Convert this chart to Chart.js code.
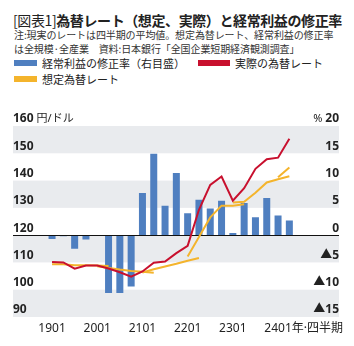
<!DOCTYPE html>
<html lang="ja">
<head>
<meta charset="utf-8">
<title>為替レートと経常利益の修正率</title>
<script src="https://cdn.jsdelivr.net/npm/chart.js@4.4.1/dist/chart.umd.min.js"></script>
<style>
  body { margin: 0; background: #fff; color: #222; font-family: "Noto Sans CJK JP", "Noto Sans", sans-serif; }
  #wrap { position: relative; width: 354px; height: 346px; overflow: hidden; }
  #chart { position: absolute; left: 0; top: 0; }
  .title { position: absolute; left: 13px; top: 10px; font-size: 14px; font-weight: bold; white-space: nowrap; letter-spacing: -0.4px; }
  .title span { font-weight: normal; }
  .note { position: absolute; left: 14px; top: 28px; font-size: 10px; line-height: 14px; color: #333; white-space: nowrap; letter-spacing: -0.1px; }
  .key { position: absolute; font-size: 11px; line-height: 14px; white-space: nowrap; }
  .key i { position: absolute; top: 4px; height: 6px; }
</style>
</head>
<body>
<div id="wrap">
  <div class="title"><span>[図表1]</span>為替レート（想定、実際）と経常利益の修正率</div>
  <div class="note">注:現実のレートは四半期の平均値。想定為替レート、経常利益の修正率<br>は全規模·全産業　資料:日本銀行「全国企業短期経済観測調査」</div>
  <div class="key" style="left:14px;top:56px;padding-left:28px"><i style="left:0;width:23px;background:#4f7fc0"></i>経常利益の修正率（右目盛）</div>
  <div class="key" style="left:198px;top:56px;padding-left:37px"><i style="left:0;width:32px;background:#c8102e"></i>実際の為替レート</div>
  <div class="key" style="left:14px;top:72px;padding-left:28px"><i style="left:0;width:23px;background:#f4b42c"></i>想定為替レート</div>
  <canvas id="chart" width="354" height="346"></canvas>
</div>
<script>
// quarters: YYQQ
const quarters = ['1901', '1902', '1903', '1904', '2001', '2002', '2003', '2004',
  '2101', '2102', '2103', '2104', '2201', '2202', '2203', '2204',
  '2301', '2302', '2303', '2304', '2401', '2402'];

// axis ticks
const yenTicks = [90, 100, 110, 120, 130, 140, 150, 160];
const pctTicks = [-15, -10, -5, 0, 5, 10, 15, 20];

// 経常利益の修正率 (%), right axis
const profitRevision = [-0.7, -0.2, -2.5, -0.8, 0, -10.6, -10.6, -9.4,
  7.7, 14.9, 5.4, 11.4, 4.0, 6.5, 4.9, 6.3,
  0.4, 5.9, 3.3, 6.8, 3.6, 2.7];

// 実際の為替レート (円/ドル, quarterly average)
const actualRate = [110.2, 110.0, 107.7, 108.9, 108.9, 107.8, 106.4, 104.8,
  106.7, 109.9, 110.3, 113.4, 116.1, 129.3, 138.4, 141.5,
  132.6, 137.2, 144.3, 147.8, 148.4, 155.3];

// 想定為替レート, one run per fiscal year, starting at the March survey
const assumedFY2019 = [109.3, 109.3, 109.0, 109.0, 108.9, 108.7];
const assumedFY2020 = [108.6, 108.0, 107.4, 106.9, 106.6, 106.2];
const assumedFY2021 = [106.3, 107.5, 108.5, 109.5, 110.6, 111.6];
const assumedFY2022 = [112.2, 119.3, 126.5, 130.8, 130.8, 131.3];
const assumedFY2023 = [132.0, 132.2, 135.5, 139.3, 140.5, 141.6];
const assumedFY2024 = [141.2, 144.8];
const assumedStart = ['1901', '2001', '2101', '2201', '2301', '2401'];

const BLUE = '#4f7fc0';
const RED = '#c8102e';
const YELLOW = '#f4b42c';
const BAND = '#e9ebee';
const INK = '#222';
const FONT = '"Noto Sans", "Noto Sans CJK JP", sans-serif';

// place a fiscal-year run onto the quarter axis
function placeRun(start, values) {
  const out = quarters.map(() => null);
  const i0 = quarters.indexOf(start);
  values.forEach((v, i) => { out[i0 + i] = v; });
  return out;
}

const assumedRuns = [assumedFY2019, assumedFY2020, assumedFY2021,
  assumedFY2022, assumedFY2023, assumedFY2024];

const assumedSets = assumedRuns.map((run, k) => ({
  type: 'line',
  label: '想定為替レート',
  data: placeRun(assumedStart[k], run),
  borderColor: YELLOW,
  borderWidth: 2,
  pointRadius: 0,
  tension: 0,
  spanGaps: false,
  yAxisID: 'y',
  order: 2
}));

// grey bands every other 10-yen step, plus the zero line
const bandsPlugin = {
  id: 'bands',
  beforeDatasetsDraw(chart) {
    const { ctx } = chart;
    const y = chart.scales.y;
    const left = y.left;
    const right = chart.scales.y2.right;
    ctx.save();
    ctx.fillStyle = BAND;
    for (let v = y.min; v < y.max; v += 20) {
      const top = y.getPixelForValue(v + 10);
      const bottom = y.getPixelForValue(v);
      ctx.fillRect(left, top, right - left, bottom - top);
    }
    ctx.restore();
  },
  afterDatasetDraw(chart, args) {
    // zero line sits over the bars but under the rate lines
    if (args.meta.type !== 'bar') return;
    const { ctx } = chart;
    const yz = Math.round(chart.scales.y2.getPixelForValue(0)) + 0.5;
    ctx.save();
    ctx.strokeStyle = '#111';
    ctx.lineWidth = 1.2;
    ctx.beginPath();
    ctx.moveTo(chart.scales.y.left, yz);
    ctx.lineTo(chart.scales.y2.right, yz);
    ctx.stroke();
    ctx.restore();
  }
};

// tick labels sit just above their value, inside the banded area
const labelsPlugin = {
  id: 'axisLabels',
  afterDraw(chart) {
    const { ctx } = chart;
    const y = chart.scales.y;
    const y2 = chart.scales.y2;
    const x = chart.scales.x;
    const lift = 7;
    ctx.save();
    ctx.fillStyle = INK;
    ctx.textBaseline = 'middle';
    ctx.font = 'bold 12px ' + FONT;

    ctx.textAlign = 'left';
    yenTicks.forEach(v => ctx.fillText(String(v), y.left, y.getPixelForValue(v) - lift));
    ctx.textAlign = 'right';
    pctTicks.forEach(v => {
      const txt = v < 0 ? '▲' + (-v) : String(v);
      ctx.fillText(txt, y2.right, y2.getPixelForValue(v) - lift);
    });

    // units beside the top labels
    const topY = y.getPixelForValue(y.max) - lift;
    const w1 = ctx.measureText(String(y.max)).width;
    const w2 = ctx.measureText(String(y2.max)).width;
    ctx.font = '11px ' + FONT;
    ctx.textAlign = 'left';
    ctx.fillText('円/ドル', y.left + w1 + 3, topY);
    ctx.textAlign = 'right';
    ctx.fillText('%', y2.right - w2 - 3, topY);

    // suffix after the last year label
    ctx.font = '12px ' + FONT;
    const px = x.getPixelForTick(quarters.indexOf('2401'));
    const w3 = ctx.measureText('2401').width;
    ctx.textAlign = 'left';
    ctx.fillText('年·四半期', px + w3 / 2, x.top + 4 + 8);
    ctx.restore();
  }
};

new Chart(document.getElementById('chart'), {
  type: 'bar',
  data: {
    labels: quarters,
    datasets: [
      {
        type: 'line',
        label: '実際の為替レート',
        data: actualRate,
        borderColor: RED,
        borderWidth: 2,
        pointRadius: 0,
        tension: 0,
        yAxisID: 'y',
        order: 1
      },
      ...assumedSets,
      {
        type: 'bar',
        label: '経常利益の修正率（右目盛）',
        data: profitRevision,
        backgroundColor: BLUE,
        borderWidth: 0,
        barPercentage: 0.62,
        categoryPercentage: 1,
        yAxisID: 'y2',
        order: 3
      }
    ]
  },
  options: {
    responsive: false,
    animation: false,
    layout: { padding: { left: 13, right: 15, top: 126, bottom: 0 } },
    plugins: { legend: { display: false }, tooltip: { enabled: false } },
    scales: {
      x: {
        offset: true,
        grid: { display: false, drawTicks: false },
        border: { display: false },
        ticks: {
          autoSkip: false,
          maxRotation: 0,
          padding: 4,
          color: INK,
          font: { family: FONT, size: 12 },
          callback: (v, i) => (i % 4 === 0 ? quarters[i] : '')
        },
        afterFit: s => { s.height = 29; }
      },
      y: {
        position: 'left',
        min: yenTicks[0],
        max: yenTicks[yenTicks.length - 1],
        grid: { display: false, drawTicks: false },
        border: { display: false },
        ticks: { display: false },
        afterFit: s => { s.width = 33.4; }
      },
      y2: {
        position: 'right',
        min: pctTicks[0],
        max: pctTicks[pctTicks.length - 1],
        grid: { display: false, drawTicks: false },
        border: { display: false },
        ticks: { display: false },
        afterFit: s => { s.width = 44; }
      }
    }
  },
  plugins: [bandsPlugin, labelsPlugin]
});
</script>
</body>
</html>
